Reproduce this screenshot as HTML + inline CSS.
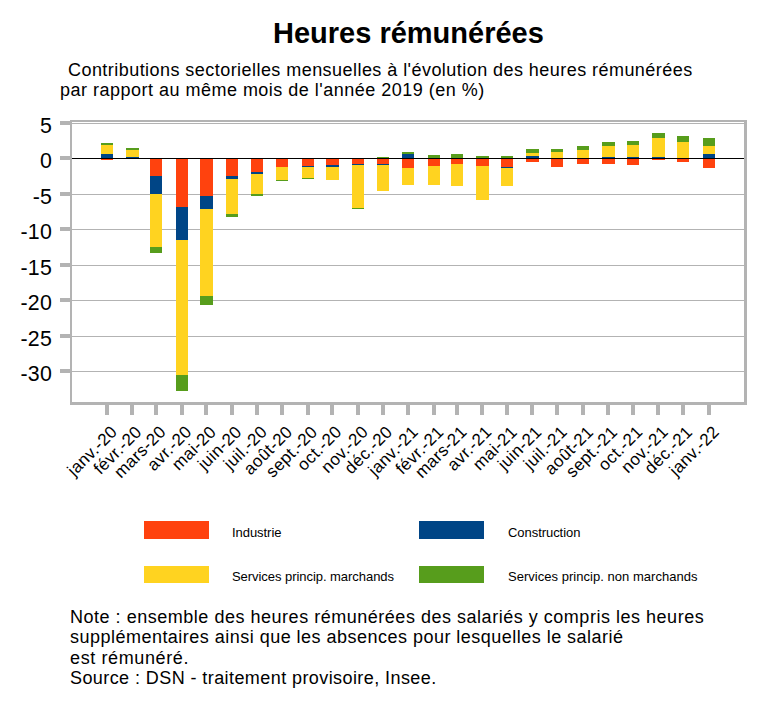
<!DOCTYPE html>
<html><head><meta charset="utf-8"><style>
html,body{margin:0;padding:0;background:#fff;}
body{width:767px;height:708px;position:relative;overflow:hidden;font-family:"Liberation Sans",sans-serif;color:#000;}
.t{position:absolute;white-space:nowrap;line-height:1;}
.yl{position:absolute;right:715px;font-size:21.33px;letter-spacing:0.2px;white-space:nowrap;line-height:20px;}
.xl{position:absolute;font-size:17px;white-space:nowrap;line-height:17px;transform-origin:100% 0;transform:rotate(-45deg);letter-spacing:0.4px;}
.sw{position:absolute;width:65px;height:18px;}
.lg{position:absolute;font-size:13px;white-space:nowrap;line-height:13px;letter-spacing:-0.05px;}
.sub{position:absolute;font-size:18px;white-space:nowrap;line-height:20px;}
.note{position:absolute;font-size:18px;white-space:nowrap;line-height:20.37px;}
</style></head><body>

<div class="t" style="left:273px;top:19px;font-size:29px;font-weight:bold;">Heures rémunérées</div>
<div class="sub" style="left:68px;top:60px;letter-spacing:0.45px">Contributions sectorielles mensuelles à l'évolution des heures rémunérées</div>
<div class="sub" style="left:60px;top:80px;letter-spacing:0.49px">par rapport au même mois de l'année 2019 (en %)</div>
<svg style="position:absolute;left:0;top:0" width="767" height="708" shape-rendering="crispEdges"><rect x="72" y="123" width="672" height="1" fill="#b3b3b3"/><rect x="72" y="194" width="672" height="1" fill="#b3b3b3"/><rect x="72" y="229" width="672" height="1" fill="#b3b3b3"/><rect x="72" y="265" width="672" height="1" fill="#b3b3b3"/><rect x="72" y="300" width="672" height="1" fill="#b3b3b3"/><rect x="72" y="336" width="672" height="1" fill="#b3b3b3"/><rect x="72" y="371" width="672" height="1" fill="#b3b3b3"/><rect x="70" y="120" width="677" height="2" fill="#b3b3b3"/><rect x="744" y="120" width="3" height="285" fill="#b3b3b3"/><rect x="70" y="120" width="2" height="285" fill="#b3b3b3"/><rect x="70" y="402" width="677" height="3" fill="#b3b3b3"/><rect x="60" y="121" width="10" height="4" fill="#b3b3b3"/><rect x="60" y="156" width="10" height="4" fill="#b3b3b3"/><rect x="60" y="192" width="10" height="4" fill="#b3b3b3"/><rect x="60" y="227" width="10" height="4" fill="#b3b3b3"/><rect x="60" y="263" width="10" height="4" fill="#b3b3b3"/><rect x="60" y="298" width="10" height="4" fill="#b3b3b3"/><rect x="60" y="334" width="10" height="4" fill="#b3b3b3"/><rect x="60" y="369" width="10" height="4" fill="#b3b3b3"/><rect x="105" y="405" width="4" height="10" fill="#b3b3b3"/><rect x="130" y="405" width="4" height="10" fill="#b3b3b3"/><rect x="154" y="405" width="4" height="10" fill="#b3b3b3"/><rect x="180" y="405" width="4" height="10" fill="#b3b3b3"/><rect x="204" y="405" width="4" height="10" fill="#b3b3b3"/><rect x="230" y="405" width="4" height="10" fill="#b3b3b3"/><rect x="255" y="405" width="4" height="10" fill="#b3b3b3"/><rect x="280" y="405" width="4" height="10" fill="#b3b3b3"/><rect x="306" y="405" width="4" height="10" fill="#b3b3b3"/><rect x="330" y="405" width="4" height="10" fill="#b3b3b3"/><rect x="356" y="405" width="4" height="10" fill="#b3b3b3"/><rect x="381" y="405" width="4" height="10" fill="#b3b3b3"/><rect x="406" y="405" width="4" height="10" fill="#b3b3b3"/><rect x="432" y="405" width="4" height="10" fill="#b3b3b3"/><rect x="455" y="405" width="4" height="10" fill="#b3b3b3"/><rect x="480" y="405" width="4" height="10" fill="#b3b3b3"/><rect x="505" y="405" width="4" height="10" fill="#b3b3b3"/><rect x="530" y="405" width="4" height="10" fill="#b3b3b3"/><rect x="555" y="405" width="4" height="10" fill="#b3b3b3"/><rect x="581" y="405" width="4" height="10" fill="#b3b3b3"/><rect x="606" y="405" width="4" height="10" fill="#b3b3b3"/><rect x="631" y="405" width="4" height="10" fill="#b3b3b3"/><rect x="656" y="405" width="4" height="10" fill="#b3b3b3"/><rect x="681" y="405" width="4" height="10" fill="#b3b3b3"/><rect x="707" y="405" width="4" height="10" fill="#b3b3b3"/><rect x="101" y="143" width="12" height="2" fill="#579d1c"/><rect x="101" y="145" width="12" height="9" fill="#ffd320"/><rect x="101" y="154" width="12" height="4" fill="#004586"/><rect x="101" y="158" width="12" height="2" fill="#ff420e"/><rect x="126" y="148" width="13" height="2" fill="#579d1c"/><rect x="126" y="150" width="13" height="6.5" fill="#ffd320"/><rect x="126" y="156.5" width="13" height="1.5" fill="#004586"/><rect x="150" y="158" width="12" height="18" fill="#ff420e"/><rect x="150" y="176" width="12" height="18" fill="#004586"/><rect x="150" y="194" width="12" height="53" fill="#ffd320"/><rect x="150" y="247" width="12" height="6" fill="#579d1c"/><rect x="176" y="158" width="12" height="49" fill="#ff420e"/><rect x="176" y="207" width="12" height="33" fill="#004586"/><rect x="176" y="240" width="12" height="135" fill="#ffd320"/><rect x="176" y="375" width="12" height="16" fill="#579d1c"/><rect x="200" y="158" width="13" height="38" fill="#ff420e"/><rect x="200" y="196" width="13" height="13" fill="#004586"/><rect x="200" y="209" width="13" height="87" fill="#ffd320"/><rect x="200" y="296" width="13" height="9" fill="#579d1c"/><rect x="226" y="158" width="12" height="18" fill="#ff420e"/><rect x="226" y="176" width="12" height="3" fill="#004586"/><rect x="226" y="179" width="12" height="35" fill="#ffd320"/><rect x="226" y="214" width="12" height="3" fill="#579d1c"/><rect x="251" y="158" width="12" height="14" fill="#ff420e"/><rect x="251" y="172" width="12" height="2" fill="#004586"/><rect x="251" y="174" width="12" height="20" fill="#ffd320"/><rect x="251" y="194" width="12" height="2" fill="#579d1c"/><rect x="276" y="158" width="12" height="9" fill="#ff420e"/><rect x="276" y="167" width="12" height="13" fill="#ffd320"/><rect x="276" y="180" width="12" height="1" fill="#579d1c"/><rect x="302" y="158" width="12" height="8" fill="#ff420e"/><rect x="302" y="166" width="12" height="1" fill="#004586"/><rect x="302" y="167" width="12" height="11" fill="#ffd320"/><rect x="302" y="178" width="12" height="1" fill="#579d1c"/><rect x="326" y="158" width="13" height="7" fill="#ff420e"/><rect x="326" y="165" width="13" height="2" fill="#004586"/><rect x="326" y="167" width="13" height="13" fill="#ffd320"/><rect x="352" y="158" width="12" height="6" fill="#ff420e"/><rect x="352" y="164" width="12" height="1" fill="#004586"/><rect x="352" y="165" width="12" height="43" fill="#ffd320"/><rect x="352" y="208" width="12" height="1" fill="#579d1c"/><rect x="377" y="157" width="12" height="1" fill="#579d1c"/><rect x="377" y="158" width="12" height="6" fill="#ff420e"/><rect x="377" y="164" width="12" height="1" fill="#004586"/><rect x="377" y="165" width="12" height="26" fill="#ffd320"/><rect x="402" y="152" width="12" height="2" fill="#579d1c"/><rect x="402" y="154" width="12" height="4" fill="#004586"/><rect x="402" y="158" width="12" height="10" fill="#ff420e"/><rect x="402" y="168" width="12" height="17" fill="#ffd320"/><rect x="428" y="155" width="12" height="3" fill="#579d1c"/><rect x="428" y="158" width="12" height="8" fill="#ff420e"/><rect x="428" y="166" width="12" height="19" fill="#ffd320"/><rect x="451" y="154" width="12" height="4" fill="#579d1c"/><rect x="451" y="158" width="12" height="6" fill="#ff420e"/><rect x="451" y="164" width="12" height="22" fill="#ffd320"/><rect x="476" y="156" width="13" height="2" fill="#579d1c"/><rect x="476" y="158" width="13" height="8" fill="#ff420e"/><rect x="476" y="166" width="13" height="34" fill="#ffd320"/><rect x="501" y="156" width="12" height="2" fill="#579d1c"/><rect x="501" y="158" width="12" height="9" fill="#ff420e"/><rect x="501" y="167" width="12" height="1" fill="#004586"/><rect x="501" y="168" width="12" height="18" fill="#ffd320"/><rect x="526" y="149" width="13" height="4" fill="#579d1c"/><rect x="526" y="153" width="13" height="3" fill="#ffd320"/><rect x="526" y="156" width="13" height="2" fill="#004586"/><rect x="526" y="158" width="13" height="4" fill="#ff420e"/><rect x="551" y="149" width="12" height="3" fill="#579d1c"/><rect x="551" y="152" width="12" height="6" fill="#ffd320"/><rect x="551" y="158" width="12" height="9" fill="#ff420e"/><rect x="577" y="146" width="12" height="4" fill="#579d1c"/><rect x="577" y="150" width="12" height="8" fill="#ffd320"/><rect x="577" y="158" width="12" height="6" fill="#ff420e"/><rect x="602" y="142" width="13" height="4" fill="#579d1c"/><rect x="602" y="146" width="13" height="11" fill="#ffd320"/><rect x="602" y="157" width="13" height="1" fill="#004586"/><rect x="602" y="158" width="13" height="6" fill="#ff420e"/><rect x="627" y="141" width="12" height="4" fill="#579d1c"/><rect x="627" y="145" width="12" height="12" fill="#ffd320"/><rect x="627" y="157" width="12" height="1" fill="#004586"/><rect x="627" y="158" width="12" height="7" fill="#ff420e"/><rect x="652" y="133" width="13" height="5" fill="#579d1c"/><rect x="652" y="138" width="13" height="19" fill="#ffd320"/><rect x="652" y="157" width="13" height="1" fill="#004586"/><rect x="652" y="158" width="13" height="2" fill="#ff420e"/><rect x="677" y="136" width="12" height="6" fill="#579d1c"/><rect x="677" y="142" width="12" height="16" fill="#ffd320"/><rect x="677" y="158" width="12" height="4" fill="#ff420e"/><rect x="703" y="138" width="12" height="8" fill="#579d1c"/><rect x="703" y="146" width="12" height="8" fill="#ffd320"/><rect x="703" y="154" width="12" height="4" fill="#004586"/><rect x="703" y="158" width="12" height="10" fill="#ff420e"/><rect x="72" y="158" width="672" height="1" fill="#000"/></svg>
<div class="yl" style="top:115.5px;">5</div>
<div class="yl" style="top:150.5px;">0</div>
<div class="yl" style="top:186.5px;">-5</div>
<div class="yl" style="top:221.5px;">-10</div>
<div class="yl" style="top:257.5px;">-15</div>
<div class="yl" style="top:292.5px;">-20</div>
<div class="yl" style="top:328.5px;">-25</div>
<div class="yl" style="top:363.5px;">-30</div>
<div class="xl" style="right:659.00px;top:422.5px;">janv.-20</div>
<div class="xl" style="right:634.00px;top:422.5px;">févr.-20</div>
<div class="xl" style="right:610.00px;top:422.5px;">mars-20</div>
<div class="xl" style="right:584.00px;top:422.5px;">avr.-20</div>
<div class="xl" style="right:560.00px;top:422.5px;">mai-20</div>
<div class="xl" style="right:534.00px;top:422.5px;">juin-20</div>
<div class="xl" style="right:509.00px;top:422.5px;">juil.-20</div>
<div class="xl" style="right:484.00px;top:422.5px;">août-20</div>
<div class="xl" style="right:458.00px;top:422.5px;">sept.-20</div>
<div class="xl" style="right:434.00px;top:422.5px;">oct.-20</div>
<div class="xl" style="right:408.00px;top:422.5px;">nov.-20</div>
<div class="xl" style="right:383.00px;top:422.5px;">déc.-20</div>
<div class="xl" style="right:358.00px;top:422.5px;">janv.-21</div>
<div class="xl" style="right:332.00px;top:422.5px;">févr.-21</div>
<div class="xl" style="right:309.00px;top:422.5px;">mars-21</div>
<div class="xl" style="right:284.00px;top:422.5px;">avr.-21</div>
<div class="xl" style="right:259.00px;top:422.5px;">mai-21</div>
<div class="xl" style="right:234.00px;top:422.5px;">juin-21</div>
<div class="xl" style="right:209.00px;top:422.5px;">juil.-21</div>
<div class="xl" style="right:183.00px;top:422.5px;">août-21</div>
<div class="xl" style="right:158.00px;top:422.5px;">sept.-21</div>
<div class="xl" style="right:133.00px;top:422.5px;">oct.-21</div>
<div class="xl" style="right:108.00px;top:422.5px;">nov.-21</div>
<div class="xl" style="right:83.00px;top:422.5px;">déc.-21</div>
<div class="xl" style="right:57.00px;top:422.5px;">janv.-22</div>
<div class="sw" style="left:144px;top:521px;background:#ff420e"></div>
<div class="sw" style="left:144px;top:566px;height:17px;background:#ffd320"></div>
<div class="sw" style="left:419px;top:521px;background:#004586"></div>
<div class="sw" style="left:419px;top:566px;height:17px;background:#579d1c"></div>
<div class="lg" style="left:232px;top:526px;">Industrie</div>
<div class="lg" style="left:232px;top:569.5px;">Services princip. marchands</div>
<div class="lg" style="left:508px;top:526px;">Construction</div>
<div class="lg" style="left:508px;top:569.5px;letter-spacing:0.03px">Services princip. non marchands</div>
<div class="note" style="left:70px;top:607px;"><span style="letter-spacing:0.52px">Note : ensemble des heures rémunérées des salariés y compris les heures</span><br><span style="letter-spacing:0.48px">supplémentaires ainsi que les absences pour lesquelles le salarié</span><br><span style="letter-spacing:0.62px">est rémunéré.</span><br><span style="letter-spacing:0.42px">Source : DSN - traitement provisoire, Insee.</span></div>
</body></html>
